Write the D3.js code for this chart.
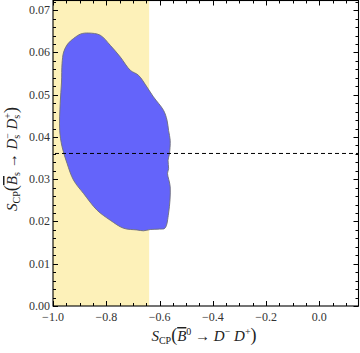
<!DOCTYPE html>
<html>
<head>
<meta charset="utf-8">
<script src="https://cdn.jsdelivr.net/npm/d3@7"></script>
<style>
  body { margin: 0; background: #fff; }
  svg text { font-family: "Liberation Serif", "DejaVu Serif", serif; }
  .tick-label { font-size: 12px; fill: #333; }
  .axis-title { font-size: 15px; fill: #222; }
</style>
</head>
<body>
<svg id="chart" width="360" height="353"></svg>
<script>
/*** DATA ***/
let x_domain = [-1.0, 0.147],
    y_domain = [0, 0.0723];

let x_ticks = [-1.0, -0.8, -0.6, -0.4, -0.2, 0.0],
    y_ticks = [0.00, 0.01, 0.02, 0.03, 0.04, 0.05, 0.06, 0.07];

// allowed band for S_CP(B0 -> D- D+)
let band_x = [-1.0, -0.639];

// dashed reference value for S_CP(Bs -> Ds- Ds+)
let ref_y = 0.0361;

// outline of the allowed region (x, y)
let region_x = [-0.866, -0.823, -0.785, -0.747, -0.710, -0.679, -0.647, -0.623, -0.585, -0.572,
                -0.566, -0.560, -0.563, -0.568, -0.566, -0.570, -0.560, -0.566, -0.580, -0.600,
                -0.635, -0.660, -0.685, -0.735, -0.785, -0.835, -0.885, -0.923, -0.947, -0.966,
                -0.975, -0.973, -0.968, -0.966, -0.960, -0.945, -0.923, -0.895];
let region_y = [0.0646, 0.0641, 0.0617, 0.0589, 0.0558, 0.0546, 0.0518, 0.0495, 0.0463, 0.0440,
                0.0415, 0.0392, 0.0360, 0.0345, 0.0325, 0.0314, 0.0282, 0.0220, 0.0184, 0.0182,
                0.0181, 0.0178, 0.0180, 0.0184, 0.0203, 0.0227, 0.0266, 0.0298, 0.0337, 0.0377,
                0.0416, 0.0480, 0.0530, 0.0574, 0.0601, 0.0620, 0.0633, 0.0644];

/*** INIT ***/
let svg = d3.select("#chart");
let margin = {top: 0.5, right: 1.5, bottom: 47, left: 53},
    width  = 360 - margin.left - margin.right,
    height = 353 - margin.top - margin.bottom;

let x = d3.scaleLinear().domain(x_domain).range([margin.left, margin.left + width]),
    y = d3.scaleLinear().domain(y_domain).range([margin.top + height, margin.top]);

// yellow band
svg.append("rect")
    .attr("x", x(band_x[0]))
    .attr("y", y(y_domain[1]))
    .attr("width", x(band_x[1]) - x(band_x[0]))
    .attr("height", y(y_domain[0]) - y(y_domain[1]))
    .attr("fill", "#fdf1b9");

// allowed region
let pts = region_x.map((d, i) => [x(d), y(region_y[i])]);
svg.append("path")
    .attr("d", d3.line().curve(d3.curveCatmullRomClosed)(pts))
    .attr("fill", "#6464fa")
    .attr("stroke", "#6e6e78")
    .attr("stroke-width", 0.9);

// dashed reference line
svg.append("line")
    .attr("x1", x(x_domain[0]) + 2)
    .attr("x2", x(x_domain[1]))
    .attr("y1", y(ref_y))
    .attr("y2", y(ref_y))
    .attr("stroke", "#000")
    .attr("stroke-width", 1)
    .attr("stroke-dasharray", "4,3");

/*** FRAME AND TICKS ***/
let x_minor = d3.range(-1.0, x_domain[1] + 1e-9, 0.05),
    y_minor = d3.range(0, y_domain[1] + 1e-9, 0.002);

let g = svg.append("g").attr("stroke", "#000").attr("stroke-width", 1);

function tick_len(v, step) {
    return Math.abs(v / step - Math.round(v / step)) < 1e-6 ? 5 : 3;
}

x_minor.forEach((v) => {
    let len = tick_len(v, 0.2), px = Math.round(x(v)) + 0.5;
    g.append("line").attr("x1", px).attr("x2", px)
        .attr("y1", y(0)).attr("y2", y(0) - len);
    g.append("line").attr("x1", px).attr("x2", px)
        .attr("y1", y(y_domain[1])).attr("y2", y(y_domain[1]) + len);
});

y_minor.forEach((v) => {
    let len = tick_len(v, 0.01), py = Math.round(y(v)) + 0.5;
    g.append("line").attr("y1", py).attr("y2", py)
        .attr("x1", x(x_domain[0])).attr("x2", x(x_domain[0]) + len);
    g.append("line").attr("y1", py).attr("y2", py)
        .attr("x1", x(x_domain[1])).attr("x2", x(x_domain[1]) - len);
});

svg.append("rect")
    .attr("x", x(x_domain[0]))
    .attr("y", y(y_domain[1]))
    .attr("width", x(x_domain[1]) - x(x_domain[0]))
    .attr("height", y(y_domain[0]) - y(y_domain[1]))
    .attr("fill", "none")
    .attr("stroke", "#000")
    .attr("stroke-width", 1.1);

// tick labels
svg.selectAll("text.x-tick")
    .data(x_ticks).enter()
    .append("text")
    .classed("tick-label", true)
    .attr("x", (d) => x(d))
    .attr("y", y(0) + 15)
    .attr("text-anchor", "middle")
    .text((d) => d3.format(".1f")(d).replace("-", "\u2212"));

svg.selectAll("text.y-tick")
    .data(y_ticks).enter()
    .append("text")
    .classed("tick-label", true)
    .attr("x", x(x_domain[0]) - 3)
    .attr("y", (d) => y(d) + 4)
    .attr("text-anchor", "end")
    .text((d) => d3.format(".2f")(d));

/*** AXIS TITLES ***/
// small script text: shift < 0 is a subscript, > 0 a superscript
function script(t, s, shift, dx = 0) {
    t.append("tspan").attr("font-size", "10px").attr("baseline-shift", shift)
        .attr("dx", dx).text(s);
}

let xt = svg.append("text")
    .classed("axis-title", true)
    .attr("x", 204)
    .attr("y", 341)
    .attr("text-anchor", "middle");
xt.append("tspan").attr("font-style", "italic").text("S");
script(xt, "CP", -3);
xt.append("tspan").attr("font-size", "18px").text("(");
xt.append("tspan").attr("font-style", "italic").attr("text-decoration", "overline").text("B");
script(xt, "0", 6);
xt.append("tspan").text(" \u2192 ");
xt.append("tspan").attr("font-style", "italic").text("D");
script(xt, "\u2212", 6);
xt.append("tspan").attr("font-style", "italic").text(" D");
script(xt, "+", 6);
xt.append("tspan").attr("font-size", "18px").text(")");

let yt = svg.append("text")
    .classed("axis-title", true)
    .attr("transform", "translate(17,159) rotate(-90)")
    .attr("text-anchor", "middle");
yt.append("tspan").attr("font-style", "italic").text("S");
script(yt, "CP", -3);
yt.append("tspan").attr("font-size", "18px").text("(");
yt.append("tspan").attr("font-style", "italic").attr("text-decoration", "overline").text("B");
script(yt, "s", -3);
yt.append("tspan").text(" \u2192 ");
yt.append("tspan").attr("font-style", "italic").text("D");
script(yt, "s", -3);
script(yt, "\u2212", 6, -4);
yt.append("tspan").attr("font-style", "italic").text(" D");
script(yt, "s", -3);
script(yt, "+", 6, -4);
yt.append("tspan").attr("font-size", "18px").text(")");
</script>
</body>
</html>
